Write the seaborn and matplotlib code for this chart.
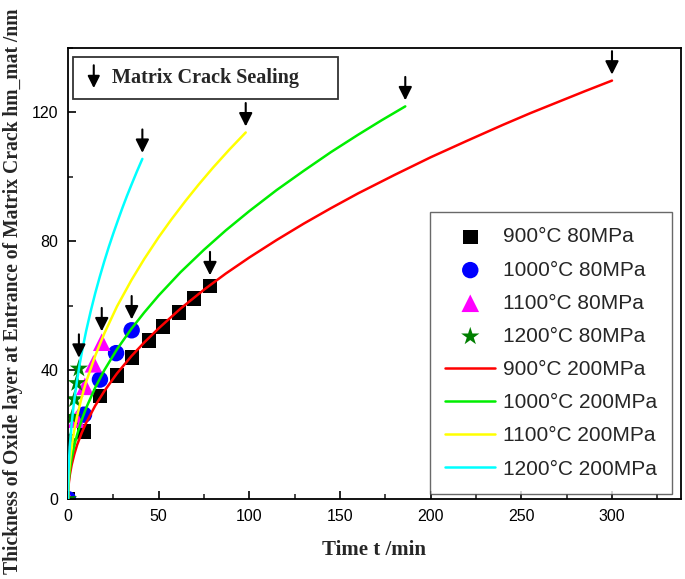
import numpy as np
import pandas as pd
import seaborn as sns
import matplotlib
matplotlib.use("Agg")
from matplotlib import pyplot as plt
from matplotlib.patches import Rectangle
from matplotlib.ticker import MultipleLocator

# measured points (80 MPa)
t_900_80 = [0, 8.8, 17.6, 26.9, 35.3, 44.7, 52.4, 61.2, 69.5, 78.3]
h_900_80 = [0, 20.9, 32.0, 38.3, 44.0, 49.3, 53.6, 58.0, 62.3, 66.1]
t_1000_80 = [0, 8.8, 17.6, 26.5, 35.1]
h_1000_80 = [0, 26.2, 37.1, 45.3, 52.4]
t_1100_80 = [0, 4.6, 9.3, 14.0, 18.6]
h_1100_80 = [0, 24.8, 35.0, 42.0, 48.7]
t_1200_80 = [0, 1.2, 2.4, 3.6, 4.8, 6.0]
h_1200_80 = [0, 18.0, 25.5, 31.0, 36.0, 40.5]

# model curves (200 MPa)
t_900_200 = [0, 0.05, 0.2, 0.5, 1, 2, 3.5, 5, 7.5, 10, 15, 20, 27, 35, 42, 50, 62, 75, 87,
             100, 115, 130, 145, 160, 180, 200, 220, 240, 255, 270, 285, 300]
h_900_200 = [0, 1.7, 3.4, 5.3, 7.5, 10.6, 14.0, 16.8, 20.5, 23.7, 29.0, 33.5, 39.0, 44.4,
             48.6, 53.0, 59.1, 65.0, 70.0, 75.0, 80.4, 85.5, 90.3, 94.9, 100.6, 106.1,
             111.2, 116.2, 119.8, 123.2, 126.6, 129.9]
t_1000_200 = [0, 0.05, 0.2, 0.5, 1, 2, 3.5, 5, 7.5, 10, 15, 20, 27, 35, 42, 50, 62, 75, 87,
              100, 115, 130, 145, 160, 173, 186]
h_1000_200 = [0, 2.0, 4.0, 6.3, 8.9, 12.6, 16.7, 20.0, 24.5, 28.3, 34.6, 40.0, 46.5, 52.9,
              57.9, 63.2, 70.4, 77.4, 83.4, 89.4, 95.9, 101.9, 107.7, 113.1, 117.6, 121.9]
t_1100_200 = [0, 0.05, 0.2, 0.5, 1, 2, 3.5, 5, 7.5, 10, 15, 20, 27, 35, 42, 50, 57, 65, 72,
              80, 89, 98]
h_1100_200 = [0, 2.6, 5.1, 8.1, 11.5, 16.3, 21.5, 25.7, 31.5, 36.4, 44.5, 51.4, 59.8, 68.0,
              74.5, 81.3, 86.8, 92.7, 97.6, 102.9, 108.5, 113.8]
t_1200_200 = [0, 0.05, 0.2, 0.5, 1, 2, 3, 4, 5, 6.5, 8, 10, 12.5, 15, 17.5, 20, 22.5, 25,
              27.5, 30, 32.5, 35, 38, 41]
h_1200_200 = [0, 3.7, 7.4, 11.7, 16.5, 23.3, 28.6, 33.0, 36.9, 42.1, 46.7, 52.2, 58.3, 63.9,
              69.0, 73.8, 78.3, 82.5, 86.5, 90.4, 94.1, 97.6, 101.7, 105.6]

sns.set_theme(style="ticks")
plt.rcParams["font.family"] = ["Liberation Sans", "DejaVu Sans"]
plt.rcParams["xtick.direction"] = "in"
plt.rcParams["ytick.direction"] = "in"

fig = plt.figure(figsize=(6.85, 5.79), dpi=100)
ax = fig.add_axes([0.0993, 0.138, 0.8947, 0.779])

markers = [
    (t_900_80, h_900_80, "900°C 80MPa", "s", "black", 110),
    (t_1000_80, h_1000_80, "1000°C 80MPa", "o", "#0000FF", 140),
    (t_1100_80, h_1100_80, "1100°C 80MPa", "^", "#FF00FF", 160),
    (t_1200_80, h_1200_80, "1200°C 80MPa", "*", "#007F00", 190),
]
curves = [
    (t_900_200, h_900_200, "900°C 200MPa", "#FF0000"),
    (t_1000_200, h_1000_200, "1000°C 200MPa", "#00EE00"),
    (t_1100_200, h_1100_200, "1100°C 200MPa", "#FFFF00"),
    (t_1200_200, h_1200_200, "1200°C 200MPa", "#00FFFF"),
]

for t, h, lab, m, c, s in markers:
    df = pd.DataFrame({"t": t, "h": h})
    sns.scatterplot(data=df, x="t", y="h", marker=m, color=c, s=s,
                    edgecolor="none", ax=ax, zorder=2, label=lab)
    # arrow over the last point
    ax.annotate("", xy=(t[-1], h[-1] + 2.5), xytext=(t[-1], h[-1] + 11.5),
                arrowprops=dict(arrowstyle="-|>", color="black", lw=1.5,
                                mutation_scale=20), zorder=5)

for t, h, lab, c in curves:
    df = pd.DataFrame({"t": t, "h": h})
    sns.lineplot(data=df, x="t", y="h", color=c, linewidth=1.8, ax=ax,
                 zorder=3, label=lab, sort=False)
    ax.annotate("", xy=(t[-1], h[-1] + 1.0), xytext=(t[-1], h[-1] + 10.0),
                arrowprops=dict(arrowstyle="-|>", color="black", lw=1.5,
                                mutation_scale=20), zorder=5)

ax.set_xlim(0, 338)
ax.set_ylim(0, 140)
ax.xaxis.set_major_locator(MultipleLocator(50))
ax.xaxis.set_minor_locator(MultipleLocator(25))
ax.yaxis.set_major_locator(MultipleLocator(40))
ax.yaxis.set_minor_locator(MultipleLocator(20))
ax.tick_params(which="major", length=6, width=1.2, labelsize=11.5, pad=7,
               colors="black", top=False, right=False)
ax.tick_params(which="minor", length=3.5, width=1.2, top=False, right=False)
for sp in ax.spines.values():
    sp.set_visible(True)
    sp.set_linewidth(1.3)
    sp.set_color("black")

serif = ["Liberation Serif", "DejaVu Serif"]
ax.set_xlabel("Time t /min", fontsize=15, fontweight="bold", family=serif,
              labelpad=12)
ax.set_ylabel("Thickness of Oxide layer at Entrance of Matrix Crack hm_mat /nm",
              fontsize=14.1, fontweight="bold", family=serif)
ax.yaxis.set_label_coords(-0.073, 0.461)

h_all, l_all = ax.get_legend_handles_labels()
leg = ax.legend(h_all, l_all, loc="upper right", bbox_to_anchor=(0.986, 0.637),
                borderaxespad=0, fontsize=15, frameon=True, fancybox=False,
                edgecolor="#444444", handlelength=2.4, labelspacing=0.68,
                handletextpad=0.35, borderpad=0.75)
leg.get_frame().set_linewidth(1.0)

# annotation box
ax.add_patch(Rectangle((0.008, 0.887), 0.432, 0.093, transform=ax.transAxes,
                       fill=False, edgecolor="#333333", lw=1.3, zorder=6))
ax.annotate("", xy=(0.042, 0.905), xytext=(0.042, 0.968),
            xycoords="axes fraction", textcoords="axes fraction",
            arrowprops=dict(arrowstyle="-|>", color="black", lw=1.5,
                            mutation_scale=18))
ax.text(0.072, 0.933, "Matrix Crack Sealing", transform=ax.transAxes,
        ha="left", va="center", fontsize=14.5, fontweight="bold", family=serif)

fig.savefig("out.png", dpi=100)
